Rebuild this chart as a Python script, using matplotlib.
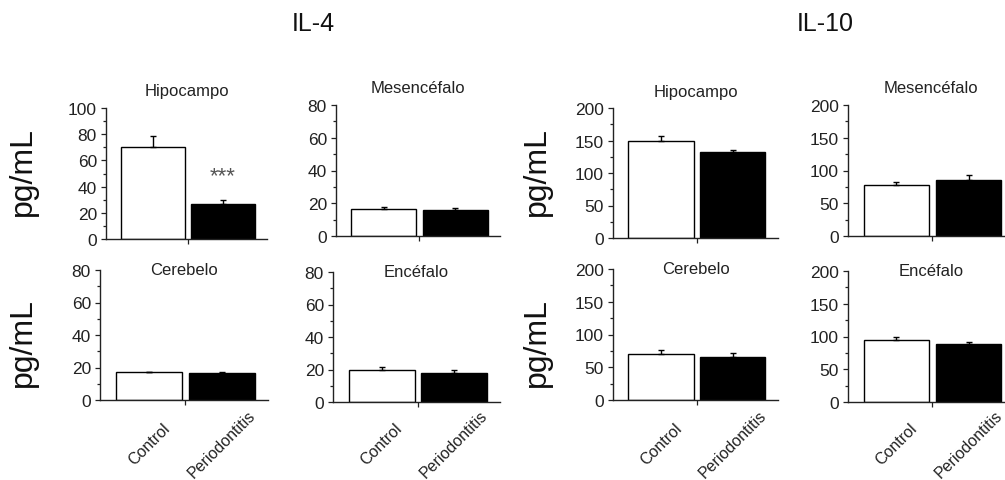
import matplotlib
matplotlib.use("Agg")
import matplotlib.pyplot as plt
from matplotlib.ticker import MultipleLocator, FixedLocator

plt.rcParams['font.family'] = ['Liberation Sans', 'DejaVu Sans']

groups = ["Control", "Periodontitis"]
cytokines = ["IL-4", "IL-10"]
regions = ["Hipocampo", "Mesencéfalo", "Cerebelo", "Encéfalo"]

il4_means = {"Hipocampo": [70.5, 26.5], "Mesencéfalo": [16.5, 16.0],
             "Cerebelo": [17.0, 16.5], "Encéfalo": [19.5, 18.0]}
il4_err = {"Hipocampo": [8.5, 3.0], "Mesencéfalo": [1.5, 1.2],
           "Cerebelo": [0.3, 1.0], "Encéfalo": [2.0, 1.7]}
il10_means = {"Hipocampo": [149, 133], "Mesencéfalo": [78, 85],
              "Cerebelo": [70, 65], "Encéfalo": [94, 89]}
il10_err = {"Hipocampo": [8, 3], "Mesencéfalo": [4, 8],
            "Cerebelo": [6, 6], "Encéfalo": [6, 3]}
il4_ymax = {"Hipocampo": 100, "Mesencéfalo": 80, "Cerebelo": 80, "Encéfalo": 80}
il10_ymax = {"Hipocampo": 200, "Mesencéfalo": 200, "Cerebelo": 200, "Encéfalo": 200}
il4_major = 20
il10_major = 50
significance = {("IL-4", "Hipocampo"): "***"}

W, H = 1005, 481
fig = plt.figure(figsize=(W / 100, H / 100), dpi=100)

# pixel boxes: left, right, y-of-zero, y-of-top
boxes = {
    ("IL-4", "Hipocampo"): (106, 267, 240, 109),
    ("IL-4", "Mesencéfalo"): (336, 500, 237, 106),
    ("IL-10", "Hipocampo"): (613, 778, 239, 109),
    ("IL-10", "Mesencéfalo"): (848, 1014, 237, 106),
    ("IL-4", "Cerebelo"): (100, 268, 401, 271),
    ("IL-4", "Encéfalo"): (333, 500, 403, 273),
    ("IL-10", "Cerebelo"): (613, 778, 401, 270),
    ("IL-10", "Encéfalo"): (848, 1014, 403, 272),
}

data = {"IL-4": (il4_means, il4_err, il4_ymax, il4_major),
        "IL-10": (il10_means, il10_err, il10_ymax, il10_major)}

dark = "#222222"
x = [0, 1]
for (cyt, reg), (l, r, b, t) in boxes.items():
    means, errs, ymaxs, major = data[cyt]
    ax = fig.add_axes([l / W, 1 - b / H, (r - l) / W, (b - t) / H])
    m = means[reg]
    e = errs[reg]
    ax.bar(x, m, width=0.91, color=["white", "black"], edgecolor="black",
           linewidth=1.0, zorder=2)
    ax.errorbar(x, m, yerr=[[0, 0], e], fmt="none", ecolor="black",
                elinewidth=1.0, capsize=2.2, capthick=1.0, zorder=3)
    ax.set_xlim(-0.67, 1.63)
    ax.set_ylim(0, ymaxs[reg])
    ax.yaxis.set_major_locator(MultipleLocator(major))
    ax.yaxis.set_minor_locator(MultipleLocator(major / 2))
    for s in ["top", "right"]:
        ax.spines[s].set_visible(False)
    for s in ["left", "bottom"]:
        ax.spines[s].set_linewidth(1.0)
        ax.spines[s].set_color(dark)
    ax.tick_params(axis="y", which="major", length=3.5, width=0.9, pad=3,
                   labelsize=12.5, colors=dark)
    ax.tick_params(axis="y", which="minor", length=2.5, width=0.9, colors=dark)
    ax.set_xticks(x)
    ax.xaxis.set_minor_locator(FixedLocator([0.5]))
    ax.tick_params(axis="x", which="minor", length=3.5, width=0.9, colors=dark)
    bottom_row = reg in ("Cerebelo", "Encéfalo")
    if bottom_row:
        ax.set_xticklabels(groups, rotation=45, ha="center", va="center",
                           fontsize=11.5, color=dark)
        ax.tick_params(axis="x", which="major", length=0,
                       pad=31.5 - (b - 401) * 0.72)
        ax.text(0.5, 1.0, reg, transform=ax.transAxes, ha="center",
                va="center", fontsize=12, color=dark)
    else:
        ax.set_xticklabels([])
        ax.tick_params(axis="x", which="major", length=0)
        ax.text(0.5, 1.0 + 17 / (b - t), reg, transform=ax.transAxes,
                ha="center", va="center", fontsize=12, color=dark)
    if (cyt, reg) in significance:
        ax.text(1, 44, significance[(cyt, reg)], ha="center", va="baseline",
                fontsize=16, color="#555555")

# cytokine titles
fig.text(313 / W, 1 - 24 / H, cytokines[0], ha="center", va="center",
         fontsize=18, color="#111111")
fig.text(825 / W, 1 - 24 / H, cytokines[1], ha="center", va="center",
         fontsize=18, color="#111111")

# y labels
for (px, py) in [(23, 171), (23, 343), (537, 171), (537, 343)]:
    fig.text(px / W, 1 - py / H, "pg/mL", rotation=90, ha="center",
             va="center", fontsize=23, color="#111111")

fig.savefig("out.png", dpi=100)
